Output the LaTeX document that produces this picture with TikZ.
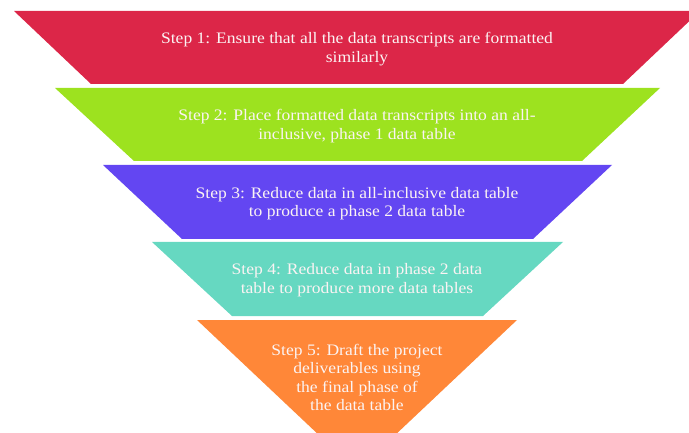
\documentclass[tikz,border=0pt]{standalone}
\usepackage{fontspec}
\setmainfont{Liberation Serif}
\newfontfamily\stepfont[FakeStretch=1.097]{Liberation Serif}
\definecolor{cred}{HTML}{DC2648}
\definecolor{cgreen}{HTML}{9DE21F}
\definecolor{cpurple}{HTML}{6346F2}
\definecolor{cteal}{HTML}{66D8C1}
\definecolor{corange}{HTML}{FF8738}
\definecolor{ctext}{HTML}{FBF3F3}
\tikzset{
  steptext/.style={text=ctext, align=center, font=\stepfont\fontsize{16}{18.4}\selectfont, inner sep=0pt},
}
\begin{document}
\begin{tikzpicture}[x=1pt,y=-1pt]
\useasboundingbox (0,0) rectangle (689,433);
\clip (0,0) rectangle (689,433);
\fill[cred] (14,11) -- (700,11) -- (623,84) -- (91,84) -- cycle;
\fill[cgreen] (55,88) -- (660,88) -- (582,161) -- (134,161) -- cycle;
\fill[cpurple] (103,165) -- (612,165) -- (533,239) -- (182,239) -- cycle;
\fill[cteal] (152,242) -- (563,242) -- (483,316) -- (232,316) -- cycle;
\fill[corange] (197,320) -- (517,320) -- (357,471) -- cycle;
\node[steptext] (s1) at (357,49) {Step 1: Ensure that all the data transcripts are formatted\\similarly};
\node[steptext] (s2) at (357,126) {Step 2: Place formatted data transcripts into an all-\\inclusive, phase 1 data table};
\node[steptext] (s3) at (357,203.5) {Step 3: Reduce data in all-inclusive data table\\to produce a phase 2 data table};
\node[steptext] (s4) at (357,280) {Step 4: Reduce data in phase 2 data\\table to produce more data tables};
\node[steptext] (s5) at (357,377.5) {Step 5: Draft the project\\deliverables using\\the final phase of\\the data table};
\end{tikzpicture}
\end{document}
